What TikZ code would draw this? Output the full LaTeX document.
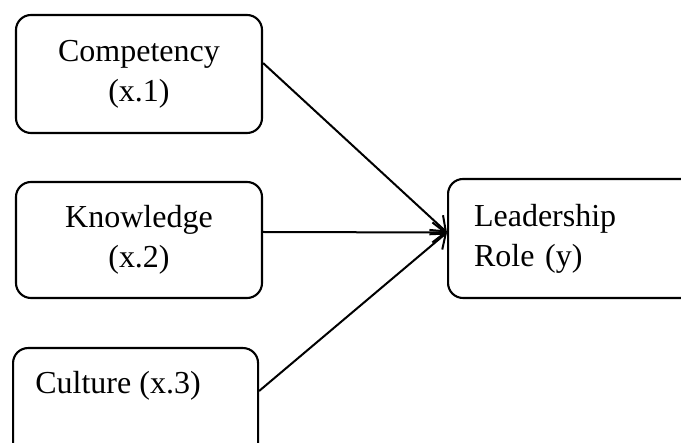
\documentclass[tikz,border=0pt]{standalone}
\usepackage{fontspec}
\setmainfont{Liberation Serif}
\usetikzlibrary{arrows.meta, positioning}

\begin{document}
\begin{tikzpicture}[x=1pt, y=-1pt, >={Straight Barb[length=13pt, width=20pt]},
    box/.style={draw, line width=2.1pt, rounded corners=15pt, inner sep=0pt,
        align=center, font=\fontsize{32}{40}\selectfont},
    link/.style={->, line width=2pt}]
    \useasboundingbox (0,0) rectangle (681,443);
    \clip (0,0) rectangle (681,443);

    % Factor boxes on the left
    \node[box, minimum width=246pt, minimum height=118pt] (comp) at (139,74) {Competency\\(x.1)};
    \node[box, minimum width=246pt, minimum height=116pt] (know) at (139,240) {Knowledge\\(x.2)};
    \node[box, anchor=north west, minimum width=245pt, minimum height=135pt] (cultbox) at (12,347) {};
    \node[font=\fontsize{32}{40}\selectfont, inner sep=0pt] (cult) at (118,386) {Culture (x.3)};

    % Outcome box on the right
    \node[box, anchor=west, align=left, text width=230pt, inner xsep=26pt, minimum height=119pt] (lead) at (447,238.5) {Leadership\\Role (y)};

    % Arrows into the outcome
    \coordinate (tip) at ([yshift=6pt]lead.west);
    \draw[link] ([yshift=11pt]comp.east) -- (tip);
    \draw[link] ([yshift=8pt]know.east) -- (tip);
    \draw[link] ([yshift=-5pt]cultbox.east |- cult) -- (tip);

\end{tikzpicture}
\end{document}
